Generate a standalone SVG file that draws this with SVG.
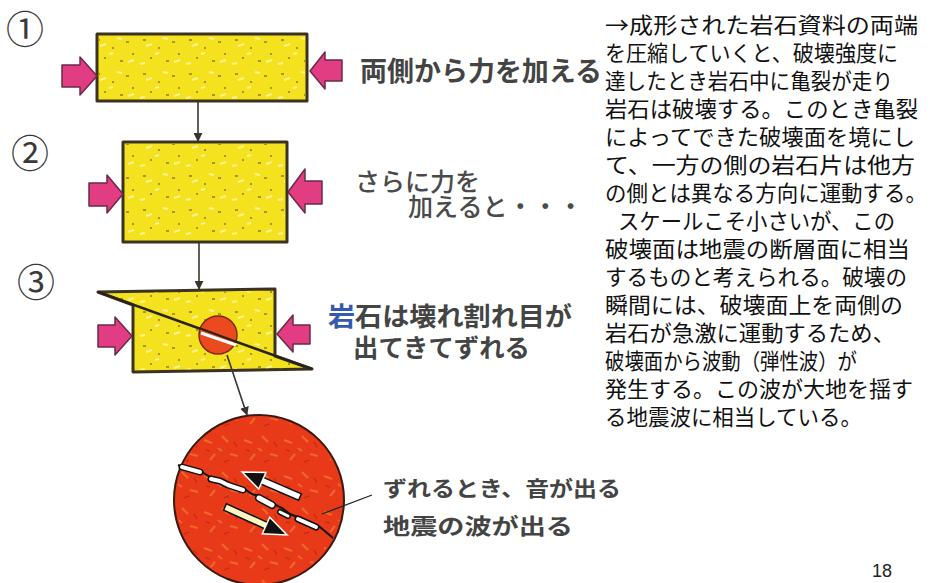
<svg xmlns="http://www.w3.org/2000/svg" width="936" height="583" viewBox="0 0 936 583">
  <style>
    .rock{fill:#f4e21e;stroke:#3b3222;stroke-width:3;stroke-linejoin:round}
    .grain{fill:url(#grain);stroke:none}
    .push{fill:#e23c83;stroke:#6a2a48;stroke-width:1.5;stroke-linejoin:round}
    .link{fill:none;stroke:#3b3530;stroke-width:1.6}
    .step{font-family:"Noto Sans CJK JP","DejaVu Sans",sans-serif;font-size:38px;fill:#3a3a3a;text-anchor:middle}
    .hand{font-family:"Noto Sans CJK JP",sans-serif;fill:#444;font-weight:700}
    .soft{font-family:"Noto Sans CJK JP",sans-serif;fill:#4a4a4a;font-weight:500}
    .body{font-family:"Noto Sans CJK JP",sans-serif;font-size:22px;fill:#111}
    .gap{fill:none;stroke-linecap:round;stroke-linejoin:round}
  </style>
  <defs>
    <marker id="tip" viewBox="0 0 10 10" refX="9" refY="5" markerWidth="9" markerHeight="9" markerUnits="userSpaceOnUse" orient="auto">
      <path d="M0,0 L10,5 L0,10 Z" fill="#3b3530"/>
    </marker>
    <pattern id="grain" width="46" height="34" patternUnits="userSpaceOnUse">
      <path d="M5 6h3M20 14h2M34 8h3M12 24h2M28 27h3M40 20h2" stroke="#5a4a10" stroke-width="1.2"/>
      <path d="M8 12l6-2M25 4l5 1M36 28l6-2M2 30l5-1M17 20l4-1" stroke="#fffbc0" stroke-width="2" opacity=".7"/>
    </pattern>
    <pattern id="redgrain" width="40" height="36" patternUnits="userSpaceOnUse">
      <path d="M4 8l8 3M22 4l6 6M30 22l8 2M10 28l5-6M18 16l4 3" stroke="#f58a3a" stroke-width="2" opacity=".55"/>
      <path d="M34 10l3 5M6 18l4 1M24 30l5-2" stroke="#b82010" stroke-width="1.5" opacity=".6"/>
    </pattern>
  </defs>

  <!-- step 1: rock specimen squeezed from both sides -->
  <g id="step1">
    <text class="step" x="25" y="43">①</text>
    <rect class="rock" x="97" y="34" width="210" height="67"/>
    <rect class="grain" x="99" y="36" width="206" height="63"/>
    <path class="push" d="M62,65 H80 V57 L97,76 L80,95 V87 H62 Z"/>
    <path class="push" d="M342,60 H325 V52 L310,71 L325,89 V81 H342 Z"/>
    <text class="hand" x="360" y="81" font-size="27" textLength="242" lengthAdjust="spacingAndGlyphs">両側から力を加える</text>
  </g>

  <!-- step 2: more pressure -->
  <g id="step2">
    <text class="step" x="30" y="167">②</text>
    <rect class="rock" x="123" y="142" width="164" height="100"/>
    <rect class="grain" x="125" y="144" width="160" height="96"/>
    <path class="push" d="M89,183 H107 V175 L123,194 L107,213 V206 H89 Z"/>
    <path class="push" d="M322,181 H305 V169 L288,192 L305,213 V204 H322 Z"/>
    <text class="soft" x="355" y="191" font-size="25" textLength="125" lengthAdjust="spacingAndGlyphs">さらに力を</text>
    <text class="soft" x="408" y="216" font-size="25" textLength="175" lengthAdjust="spacingAndGlyphs">加えると・・・</text>
  </g>

  <!-- step 3: the specimen breaks along a slanted plane -->
  <g id="step3">
    <text class="step" x="36" y="296">③</text>
    <path class="rock" d="M98,292 L275,289 L275,356 L312,369 L133,372 L133,305 Z"/>
    <path class="grain" d="M100,293 L273,291 L273,357 L308,368 L135,370 L135,306 Z"/>
    <path d="M98,292 L312,369" stroke="#2a2418" stroke-width="2.5" fill="none"/>
    <circle cx="218" cy="335" r="19" fill="#ea4a1e" stroke="#7a2a10" stroke-width="1.5"/>
    <path d="M201,333 L236,345" stroke="#fff" stroke-width="3" fill="none"/>
    <path d="M199,328 L237,342" stroke="#2a2418" stroke-width="2" fill="none"/>
    <path class="push" d="M98,325 H115 V317 L132,336 L115,355 V347 H98 Z"/>
    <path class="push" d="M310,325 H293 V315 L277,334 L293,352 V344 H310 Z"/>
    <text class="hand" x="328" y="326" font-size="26" textLength="244" lengthAdjust="spacingAndGlyphs"><tspan fill="#3558b0">岩</tspan>石は壊れ割れ目が</text>
    <text class="hand" x="353" y="357" font-size="25" textLength="177" lengthAdjust="spacingAndGlyphs">出てきてずれる</text>
  </g>

  <!-- close-up of the fracture: the two sides slide past each other -->
  <g id="closeup">
    <circle cx="259" cy="500" r="85" fill="#e83a18" stroke="#3a1a10" stroke-width="2"/>
    <circle cx="259" cy="500" r="83" fill="url(#redgrain)"/>
    <path d="M178,465 L190,470 L200,471 L212,478 L222,480 L232,486 L243,488 L252,494 L262,497 L272,503 L282,508 L290,514 L300,518 L310,522 L320,527 L333,538" fill="none" stroke="#111" stroke-width="2"/>
    <g class="gap">
      <path d="M182,467 L200,472" stroke="#111" stroke-width="7"/>
      <path d="M211,479 L220,481 L228,485 L243,490" stroke="#111" stroke-width="7"/>
      <path d="M259,498 L272,505" stroke="#111" stroke-width="8"/>
      <path d="M280,512 L288,516" stroke="#111" stroke-width="6"/>
      <path d="M298,519 L316,527" stroke="#111" stroke-width="7"/>
      <path d="M182,467 L200,472" stroke="#fff" stroke-width="4"/>
      <path d="M211,479 L220,481 L228,485 L243,490" stroke="#fff" stroke-width="4"/>
      <path d="M259,498 L272,505" stroke="#fff" stroke-width="5"/>
      <path d="M280,512 L288,516" stroke="#fff" stroke-width="3"/>
      <path d="M298,519 L316,527" stroke="#fff" stroke-width="4"/>
    </g>
    <g transform="translate(300,497) rotate(203.3)">
      <rect x="0" y="-3.5" width="44" height="7" fill="#fff" stroke="#111" stroke-width="1.5"/>
      <path d="M41,-9 L63,0 L41,9 Z" fill="#111" stroke="#fff" stroke-width="1.5"/>
    </g>
    <g transform="translate(225,507) rotate(24.3)">
      <rect x="0" y="-3.5" width="48" height="7" fill="#fff6c0" stroke="#111" stroke-width="1.5"/>
      <path d="M45,-9 L68,0 L45,9 Z" fill="#111" stroke="#fff" stroke-width="1.5"/>
    </g>
    <path d="M372,495 L322,514" stroke="#222" stroke-width="1.3" fill="none"/>
    <text class="hand" x="383" y="496" font-size="21" textLength="238" lengthAdjust="spacingAndGlyphs">ずれるとき、音が出る</text>
    <text class="hand" x="383" y="534" font-size="22" textLength="190" lengthAdjust="spacingAndGlyphs">地震の波が出る</text>
  </g>

  <!-- connectors between the stages -->
  <g id="connectors">
    <path class="link" d="M198,102 V141" marker-end="url(#tip)"/>
    <path class="link" d="M199,243 V289" marker-end="url(#tip)"/>
    <path class="link" d="M227,355 L247,415" marker-end="url(#tip)"/>
  </g>

  <!-- explanatory text -->
  <g id="explanation" class="body">
    <text x="605" y="33" textLength="313" lengthAdjust="spacingAndGlyphs">→成形された岩石資料の両端</text>
    <text x="605" y="61" textLength="293" lengthAdjust="spacingAndGlyphs">を圧縮していくと、破壊強度に</text>
    <text x="605" y="89" textLength="288" lengthAdjust="spacingAndGlyphs">達したとき岩石中に亀裂が走り</text>
    <text x="605" y="117" textLength="313" lengthAdjust="spacingAndGlyphs">岩石は破壊する。このとき亀裂</text>
    <text x="605" y="145" textLength="310" lengthAdjust="spacingAndGlyphs">によってできた破壊面を境にし</text>
    <text x="605" y="173" textLength="310" lengthAdjust="spacingAndGlyphs">て、一方の側の岩石片は他方</text>
    <text x="605" y="201" textLength="322" lengthAdjust="spacingAndGlyphs">の側とは異なる方向に運動する。</text>
    <text x="618" y="229" textLength="277" lengthAdjust="spacingAndGlyphs">スケールこそ小さいが、この</text>
    <text x="605" y="257" textLength="305" lengthAdjust="spacingAndGlyphs">破壊面は地震の断層面に相当</text>
    <text x="605" y="285" textLength="302" lengthAdjust="spacingAndGlyphs">するものと考えられる。破壊の</text>
    <text x="605" y="313" textLength="298" lengthAdjust="spacingAndGlyphs">瞬間には、破壊面上を両側の</text>
    <text x="605" y="341" textLength="290" lengthAdjust="spacingAndGlyphs">岩石が急激に運動するため、</text>
    <text x="605" y="369" textLength="252" lengthAdjust="spacingAndGlyphs">破壊面から波動（弾性波）が</text>
    <text x="605" y="397" textLength="308" lengthAdjust="spacingAndGlyphs">発生する。この波が大地を揺す</text>
    <text x="605" y="425" textLength="257" lengthAdjust="spacingAndGlyphs">る地震波に相当している。</text>
  </g>

  <text x="872" y="577" font-family="Liberation Sans, Arial, sans-serif" font-size="18" fill="#222">18</text>
</svg>
